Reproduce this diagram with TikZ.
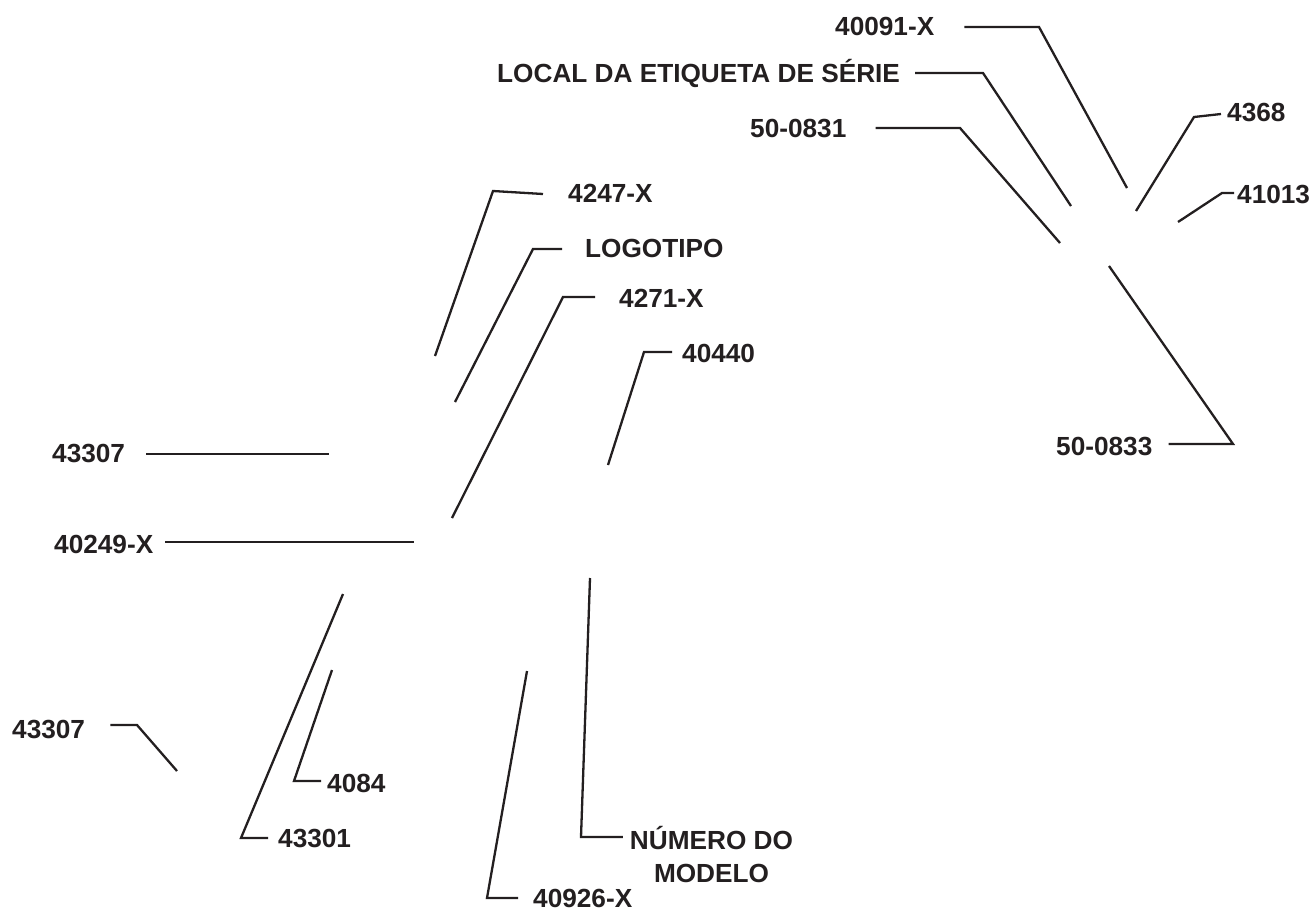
\documentclass[tikz,border=0pt]{standalone}
\usepackage{fontspec}
\setmainfont{Liberation Sans}
\definecolor{ink}{RGB}{35,31,32}
\begin{document}
\begin{tikzpicture}[x=1pt,y=-1pt,
  lbl/.style={font=\bfseries\fontsize{26.2}{33}\selectfont, text=ink, inner sep=0pt, anchor=base west},
  lead/.style={draw=ink, line width=2.3pt}]
\useasboundingbox (0,0) rectangle (1314,910);

% labels
\node[lbl] (l1)  at (835,35)   {40091-X};
\node[lbl] (l2)  at (497,82)   {LOCAL DA ETIQUETA DE SÉRIE};
\node[lbl] (l3)  at (750,137)  {50-0831};
\node[lbl] (l4)  at (1227,121) {4368};
\node[lbl] (l5)  at (1237,203) {41013};
\node[lbl] (l6)  at (1056,455) {50-0833};
\node[lbl] (l7)  at (568,202)  {4247-X};
\node[lbl] (l8)  at (585,257)  {LOGOTIPO};
\node[lbl] (l9)  at (619,307)  {4271-X};
\node[lbl] (l10) at (682,362)  {40440};
\node[lbl] (l11) at (52,462)   {43307};
\node[lbl] (l12) at (54,553)   {40249-X};
\node[lbl] (l13) at (12,738)   {43307};
\node[lbl] (l14) at (327,792)  {4084};
\node[lbl] (l15) at (278,847)  {43301};
\node[lbl, align=center, anchor=base] (l16) at (711.5,882) {NÚMERO DO\\MODELO};
\node[lbl] (l17) at (533,907)  {40926-X};

% elbows and tips
\coordinate (e1) at (1039,27);  \coordinate (t1) at (1127,188);
\coordinate (e2) at (983,73);   \coordinate (t2) at (1071,206);
\coordinate (e3) at (960,128);  \coordinate (t3) at (1060,243);
\coordinate (e4) at (1194,117); \coordinate (t4) at (1136,211);
\coordinate (e5) at (1222,193); \coordinate (t5) at (1178,222);
\coordinate (e6) at (1233,444); \coordinate (t6) at (1109,266);
\coordinate (e7) at (493,191);  \coordinate (t7) at (435,356);
\coordinate (e8) at (533,249);  \coordinate (t8) at (455,402);
\coordinate (e9) at (563,297);  \coordinate (t9) at (452,518);
\coordinate (e10) at (644,352); \coordinate (t10) at (608,465);
\coordinate (t11) at (329,454);
\coordinate (t12) at (414,542);
\coordinate (e13) at (137,725); \coordinate (t13) at (177,771);
\coordinate (e14) at (294,781); \coordinate (t14) at (332,670);
\coordinate (e15) at (241,838); \coordinate (t15) at (343,594);
\coordinate (e16) at (581,837); \coordinate (t16) at (590,578);
\coordinate (e17) at (487,898); \coordinate (t17) at (527,671);

% leaders
\draw[lead] ([xshift=30pt,yshift=8pt]l1.base east) -- (e1) -- (t1);
\draw[lead] ([xshift=15pt,yshift=9pt]l2.base east) -- (e2) -- (t2);
\draw[lead] ([xshift=29pt,yshift=9pt]l3.base east) -- (e3) -- (t3);
\draw[lead] ([xshift=-6pt,yshift=7pt]l4.base west) -- (e4) -- (t4);
\draw[lead] ([xshift=-3pt,yshift=10pt]l5.base west) -- (e5) -- (t5);
\draw[lead] ([xshift=16pt,yshift=11pt]l6.base east) -- (e6) -- (t6);
\draw[lead] ([xshift=-25pt,yshift=8pt]l7.base west) -- (e7) -- (t7);
\draw[lead] ([xshift=-23pt,yshift=8pt]l8.base west) -- (e8) -- (t8);
\draw[lead] ([xshift=-24pt,yshift=10pt]l9.base west) -- (e9) -- (t9);
\draw[lead] ([xshift=-10pt,yshift=10pt]l10.base west) -- (e10) -- (t10);
\draw[lead] ([xshift=21pt,yshift=8pt]l11.base east) -- (t11);
\draw[lead] ([xshift=12pt,yshift=11pt]l12.base east) -- (t12);
\draw[lead] ([xshift=25pt,yshift=13pt]l13.base east) -- (e13) -- (t13);
\draw[lead] ([xshift=-6pt,yshift=11pt]l14.base west) -- (e14) -- (t14);
\draw[lead] ([xshift=-10pt,yshift=9pt]l15.base west) -- (e15) -- (t15);
\draw[lead] ([xshift=-7pt,yshift=45pt]l16.base west) -- (e16) -- (t16);
\draw[lead] ([xshift=-15pt,yshift=9pt]l17.base west) -- (e17) -- (t17);
\end{tikzpicture}
\end{document}
